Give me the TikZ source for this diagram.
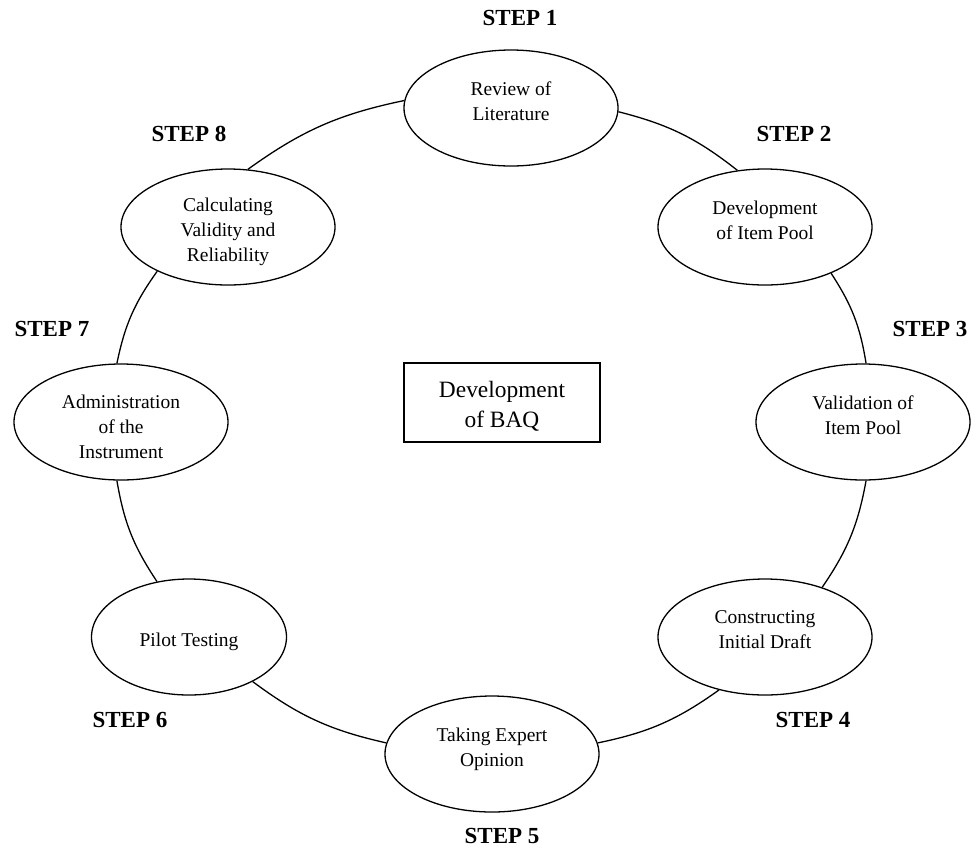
\documentclass[tikz,border=0pt]{standalone}
\usepackage{fontspec}
\setmainfont{Liberation Serif}
\usetikzlibrary{shapes.geometric}
\tikzset{
  stage/.style={ellipse, draw, line width=1.3pt, minimum width=214pt, minimum height=116pt, inner sep=0pt, align=center, font=\fontsize{19.5}{25}\selectfont},
  oneline/.style={text height=24pt},
  twoline/.style={text depth=14pt},
  threeline/.style={text height=74pt},
  steplabel/.style={font=\fontsize{23}{28}\selectfont\bfseries},
  link/.style={line width=1.3pt}
}
\begin{document}
\begin{tikzpicture}[x=1pt, y=-1pt]
        \useasboundingbox (0,0) rectangle (976,847);
        \node[stage, twoline] (lit) at (511,108) {Review of\\Literature};%
        \node[stage, twoline] (pool) at (765,227) {Development\\of Item Pool};%
        \node[stage, twoline] (valid) at (863,422) {Validation of\\Item Pool};%
        \node[stage, twoline] (draft) at (765,637) {Constructing\\Initial Draft};%
        \node[stage, twoline] (expert) at (492,754) {Taking Expert\\Opinion};%
        \node[stage, oneline, minimum width=195pt] (pilot) at (189,637) {Pilot Testing};%
        \node[stage, threeline] (admin) at (121,422) {Administration\\of the\\Instrument};%
        \node[stage, threeline] (calc) at (228,227) {Calculating\\Validity and\\Reliability};%
        \node[draw, line width=1.1pt, minimum width=196pt, minimum height=79pt, inner sep=0pt, align=center, text height=53pt, font=\fontsize{23.4}{30}\selectfont] (baq) at (502,402.5) {Development\\of BAQ};%
        \node[steplabel] (s1) at (520,18) {STEP 1};%
        \node[steplabel] (s2) at (794,134) {STEP 2};%
        \node[steplabel] (s3) at (930,329) {STEP 3};%
        \node[steplabel] (s4) at (813,720) {STEP 4};%
        \node[steplabel] (s5) at (502,836) {STEP 5};%
        \node[steplabel] (s6) at (130,720) {STEP 6};%
        \node[steplabel] (s7) at (52,329) {STEP 7};%
        \node[steplabel] (s8) at (189,134) {STEP 8};%
        % ring of arcs, clockwise
        \draw[link] (lit.-2) to[bend left=12] (pool.116); %
        \draw[link] (pool.-35) to[bend left=12] (valid.87); %
        \draw[link] (valid.-87) to[bend left=12] (draft.41); %
        \draw[link] (draft.-131) to[bend left=12] (expert.6); %
        \draw[link] (expert.174) to[bend left=12] (pilot.-35); %
        \draw[link] (pilot.120) to[bend left=12] (admin.-94); %
        \draw[link] (admin.94) to[bend left=12] (calc.212); %
        \draw[link] (calc.71) to[bend left=12] (lit.176); %
      \end{tikzpicture}
\end{document}
